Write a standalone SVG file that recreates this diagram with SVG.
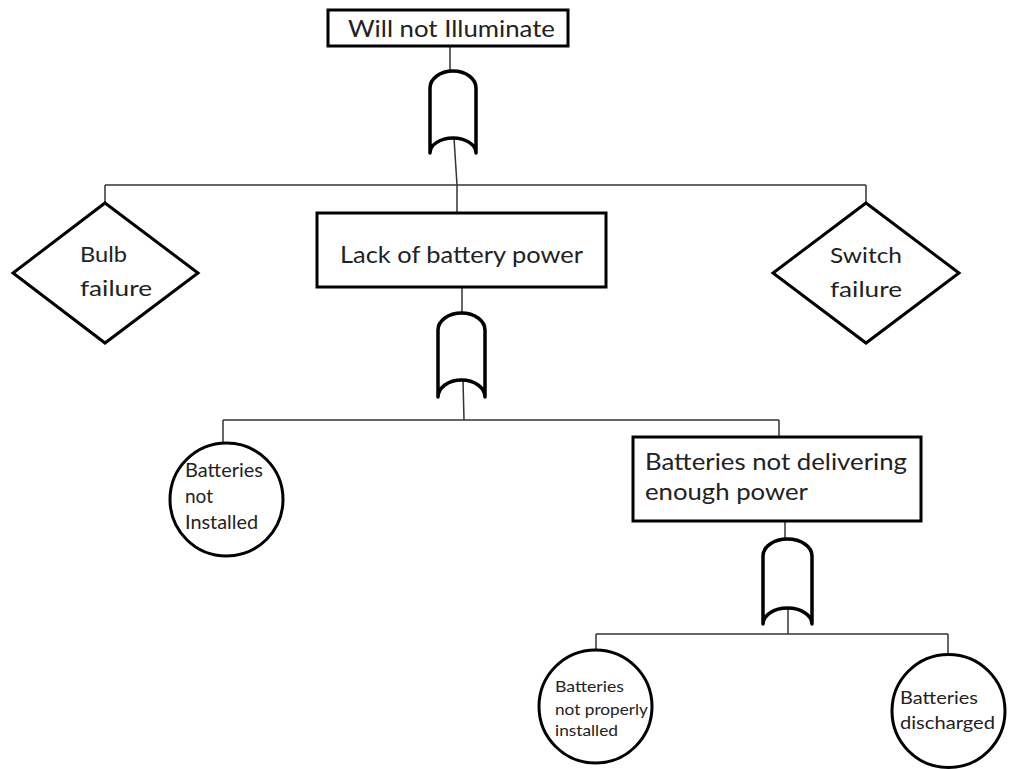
<svg xmlns="http://www.w3.org/2000/svg" width="1011" height="769" viewBox="0 0 1011 769">
  <style>
    .box { fill: #fff; stroke: #000; stroke-width: 3; }
    .gate { fill: #fff; stroke: #000; stroke-width: 3.5; stroke-linejoin: round; }
    .wire { fill: none; stroke: #333; stroke-width: 1.5; }
    text { font-family: Lato, "Liberation Sans", sans-serif; fill: #222; }
  </style>
  <rect width="1011" height="769" fill="#fff"/>

  <!-- connectors -->
  <g id="connectors" class="wire">
    <line x1="450" y1="47" x2="450" y2="71"/>
    <polyline points="454,138 457,185 457,213"/>
    <line x1="105" y1="185" x2="866" y2="185"/>
    <line x1="105" y1="185" x2="105" y2="203"/>
    <line x1="866" y1="185" x2="866" y2="203"/>
    <line x1="462" y1="287" x2="462" y2="313"/>
    <polyline points="463,380 464,420"/>
    <line x1="223" y1="420" x2="779" y2="420"/>
    <line x1="223" y1="420" x2="223" y2="444"/>
    <line x1="779" y1="420" x2="779" y2="437"/>
    <line x1="785" y1="521" x2="785" y2="539"/>
    <line x1="788" y1="608" x2="788" y2="634"/>
    <line x1="596" y1="634" x2="948" y2="634"/>
    <line x1="596" y1="634" x2="596" y2="650"/>
    <line x1="948" y1="634" x2="948" y2="655"/>
  </g>

  <!-- top event -->
  <g id="will-not-illuminate">
    <rect class="box" x="328" y="10" width="240" height="36"/>
    <text x="348" y="37" font-size="23" textLength="207" lengthAdjust="spacingAndGlyphs">Will not Illuminate</text>
  </g>

  <g id="or-gate-1">
    <path class="gate" d="M430,153 V88 A23,17 0 0 1 476,88 V153 A23,15 0 0 0 430,153 Z"/>
  </g>

  <g id="bulb-failure">
    <polygon class="box" points="105,203 198,273 105,343 13,273"/>
    <text x="80" y="262" font-size="21" textLength="47" lengthAdjust="spacingAndGlyphs">Bulb</text>
    <text x="80" y="296" font-size="21" textLength="72" lengthAdjust="spacingAndGlyphs">failure</text>
  </g>

  <g id="lack-of-battery-power">
    <rect class="box" x="317" y="213" width="289" height="74"/>
    <text x="340" y="263" font-size="24" textLength="243" lengthAdjust="spacingAndGlyphs">Lack of battery power</text>
  </g>

  <g id="switch-failure">
    <polygon class="box" points="866,203 959,273 866,343 773,273"/>
    <text x="830" y="263" font-size="21" textLength="72" lengthAdjust="spacingAndGlyphs">Switch</text>
    <text x="830" y="297" font-size="21" textLength="72" lengthAdjust="spacingAndGlyphs">failure</text>
  </g>

  <g id="or-gate-2">
    <path class="gate" d="M438,397 V330 A23.5,17 0 0 1 485,330 V397 A23.5,17 0 0 0 438,397 Z"/>
  </g>

  <g id="batteries-not-installed">
    <circle class="box" cx="226.5" cy="499.5" r="56.5"/>
    <text x="185" y="477" font-size="19" textLength="78" lengthAdjust="spacingAndGlyphs">Batteries</text>
    <text x="185" y="503" font-size="19">not</text>
    <text x="185" y="529" font-size="19" textLength="73" lengthAdjust="spacingAndGlyphs">Installed</text>
  </g>

  <g id="batteries-not-delivering">
    <rect class="box" x="633" y="437" width="288" height="84"/>
    <text x="645" y="470" font-size="23" textLength="262" lengthAdjust="spacingAndGlyphs">Batteries not delivering</text>
    <text x="645" y="500" font-size="23" textLength="163" lengthAdjust="spacingAndGlyphs">enough power</text>
  </g>

  <g id="or-gate-3">
    <path class="gate" d="M763,624 V556 A24.5,17 0 0 1 812,556 V624 A24.5,16 0 0 0 763,624 Z"/>
  </g>

  <g id="batteries-not-properly-installed">
    <circle class="box" cx="595.5" cy="706.5" r="56.5"/>
    <text x="555" y="692" font-size="15" textLength="69" lengthAdjust="spacingAndGlyphs">Batteries</text>
    <text x="555" y="715" font-size="15" textLength="93" lengthAdjust="spacingAndGlyphs">not properly</text>
    <text x="555" y="736" font-size="15" textLength="63" lengthAdjust="spacingAndGlyphs">installed</text>
  </g>

  <g id="batteries-discharged">
    <circle class="box" cx="948.5" cy="711" r="56.5"/>
    <text x="900" y="704" font-size="18" textLength="78" lengthAdjust="spacingAndGlyphs">Batteries</text>
    <text x="900" y="729" font-size="18" textLength="95" lengthAdjust="spacingAndGlyphs">discharged</text>
  </g>
</svg>
